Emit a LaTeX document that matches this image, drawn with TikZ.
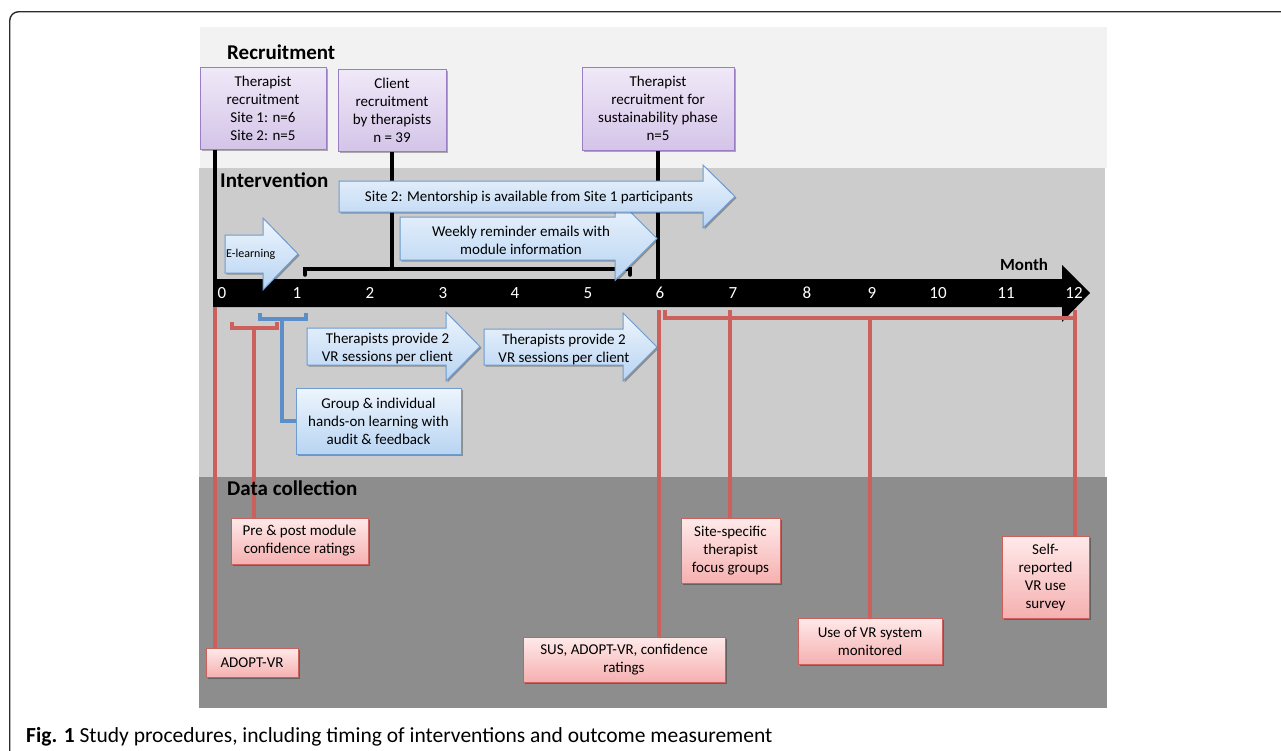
\documentclass[tikz,border=0pt]{standalone}
\usepackage{fontspec}
\setmainfont{Carlito}
\usetikzlibrary{shadows}

\definecolor{bandA}{RGB}{242,242,242}
\definecolor{bandB}{RGB}{204,204,204}
\definecolor{bandC}{RGB}{141,141,141}
\definecolor{purpTop}{RGB}{240,233,248}
\definecolor{purpBot}{RGB}{212,196,232}
\definecolor{purpLine}{RGB}{155,125,195}
\definecolor{blueTop}{RGB}{238,245,253}
\definecolor{blueBot}{RGB}{184,212,242}
\definecolor{blueLine}{RGB}{110,155,208}
\definecolor{redTop}{RGB}{255,234,234}
\definecolor{redBot}{RGB}{245,176,176}
\definecolor{redLine}{RGB}{204,96,92}
\definecolor{blueBr}{RGB}{92,142,200}
\definecolor{frameCol}{RGB}{45,45,45}

\newcommand\blockarrow[6]{% #1 left x, #2 body top, #3 body bottom, #4 head x, #5 head extend, #6 tip x
  \path[arrowbox] (#1,#2) -- (#4,#2) -- (#4,#2-#5) -- (#6,{(#2+#3)/2}) -- (#4,#3+#5) -- (#4,#3) -- (#1,#3) -- cycle;}

\tikzset{
  shadowed/.style={drop shadow={opacity=0.3, shadow xshift=1.5pt, shadow yshift=-1.5pt, fill=black}},
  boxtext/.style={align=center, font=\fontsize{15}{18}\selectfont, inner sep=0pt, text=black},
  purplebox/.style={boxtext, draw=purpLine, line width=1pt, top color=purpTop, bottom color=purpBot, shadowed},
  redbox/.style={boxtext, draw=redLine, line width=1pt, top color=redTop, bottom color=redBot, shadowed},
  bluebox/.style={boxtext, draw=blueLine, line width=1pt, top color=blueTop, bottom color=blueBot, shadowed},
  arrowbox/.style={draw=blueLine, line width=1pt, top color=blueTop, bottom color=blueBot, shadowed},
  arrowtext/.style={align=center, font=\fontsize{15}{18}\selectfont, inner sep=0pt},
  bandtitle/.style={anchor=base west, font=\fontsize{21}{24}\selectfont\bfseries, inner sep=0pt},
  num/.style={text=white, font=\fontsize{17}{20}\selectfont, inner sep=0pt},
  blk/.style={draw=black, line width=3.5pt},
  redl/.style={draw=redLine, line width=3.2pt},
  bluel/.style={draw=blueBr, line width=3.2pt},
}

\begin{document}
\begin{tikzpicture}[x=1pt,y=-1pt]
\useasboundingbox (0,0) rectangle (1281,750);
\fill[white] (0,0) rectangle (1281,750);

% outer frame
\draw[frameCol, line width=1.4pt, rounded corners=9pt] (9.7,770) -- (9.7,11.7) -- (1300,11.7);

% bands
\fill[bandA] (200,27) rectangle (1107,168);
\fill[bandB] (199,168) rectangle (1105,477);
\fill[bandC] (199,477) rectangle (1107,708);

% recruitment boxes
\node[purplebox, minimum width=126, minimum height=82] (tr1) at (263,108) {Therapist\\recruitment\\Site 1: n=6\\Site 2: n=5};
\node[purplebox, minimum width=108, minimum height=82] (cr) at (392,110) {Client\\recruitment\\by therapists\\n = 39};
\node[purplebox, minimum width=152, minimum height=83] (tr3) at (658,108.5) {Therapist\\recruitment for\\sustainability phase\\n=5};

% axis
\fill[black] (213,279) -- (1062,279) -- (1062,265) -- (1090,293) -- (1062,322) -- (1062,307) -- (213,307) -- cycle;
\node[anchor=base, font=\fontsize{17}{20}\selectfont\bfseries, inner sep=0pt] (month) at (1024,270) {Month};
\foreach \n/\x in {0/222,1/297,2/370,3/443,4/515,5/588,6/660,7/733,8/807,9/872,10/938,11/1006,12/1074}
  \node[num] (n\n) at (\x,293) {\n};

% axis coordinates
\coordinate (ax0) at (215,279);
\coordinate (brL) at (305,269);
\coordinate (brR) at (630,269);

% black connectors
\draw[blk] (tr1.south -| ax0) -- (ax0);
\draw[blk] (cr.south) -- (cr.south |- brL);
\draw[blk] (tr3.south) -- (tr3.south |- ax0);
\draw[blk, line cap=round] ([yshift=-6pt]brL) -- (brL) -- (brR) -- ([yshift=-6pt]brR);

% intervention arrows
\blockarrow{225}{235}{273}{263}{17}{298}
\node[anchor=west, font=\fontsize{12}{14}\selectfont, inner sep=0pt] (elearn) at (226,254) {E-learning};

\blockarrow{400}{217}{260}{615}{20.5}{657}
\node[arrowtext] (weekly) at (521,240) {Weekly reminder emails with\\module information};

\blockarrow{339}{181}{212}{703}{16}{735}
\node[arrowtext] (mentor) at (529,197) {Site 2: Mentorship is available from Site 1 participants};

\blockarrow{307}{328}{365}{446}{16}{480}
\node[arrowtext] (tp1) at (387.5,348) {Therapists provide 2\\VR sessions per client};

\blockarrow{484}{329}{365}{623}{16}{657}
\node[arrowtext] (tp2) at (564,349) {Therapists provide 2\\VR sessions per client};

\node[bluebox, minimum width=165, minimum height=66] (group) at (378.5,421) {Group \& individual\\hands-on learning with\\audit \& feedback};

% data collection boxes
\node[redbox, minimum width=92, minimum height=29] (adopt) at (252,662.5) {ADOPT-VR};
\node[redbox, minimum width=137, minimum height=46] (prepost) at (299.5,541) {Pre \& post module\\confidence ratings};
\node[redbox, minimum width=202, minimum height=45] (sus) at (624,659.5) {SUS, ADOPT-VR, confidence\\ratings};
\node[redbox, minimum width=99, minimum height=65] (site) at (730.5,550.5) {Site-specific\\therapist\\focus groups};
\node[redbox, minimum width=144, minimum height=46] (usevr) at (870,641) {Use of VR system\\monitored};
\node[redbox, minimum width=87, minimum height=82] (selfrep) at (1045.5,577) {Self-\\reported\\VR use\\survey};

% blue bracket
\coordinate (bbL) at (260,319);
\coordinate (bbR) at (306,319);
\coordinate (bbS) at (282,319);
\draw[bluel] ([yshift=6pt]bbL) -- (bbL) -- (bbR) -- ([yshift=6pt]bbR);
\draw[bluel] (bbS) -- (bbS |- group.west) -- (group.west);

% red small bracket
\coordinate (rbL) at (232,328);
\coordinate (rbR) at (277,328);
\coordinate (rbS) at (254,328);
\draw[redl] ([yshift=6pt]rbL) -- (rbL) -- (rbR) -- ([yshift=6pt]rbR);
\draw[redl] (rbS) -- (prepost.north -| rbS);

% red lines from the axis
\coordinate (r0) at (215,307);
\coordinate (r6) at (659,310);
\coordinate (r7) at (730,310);
\coordinate (rL) at (665,318);
\coordinate (rR) at (1075,318);
\coordinate (r9) at (870,318);
\coordinate (r12) at (1075,310);
\draw[redl] (r0) -- (adopt.north -| r0);
\draw[redl] (r6) -- (sus.north -| r6);
\draw[redl] ([yshift=8pt]rL) -- (rL) -- (rR);
\draw[redl] (r12) -- (selfrep.north -| r12);
\draw[redl] (r7) -- (site.north -| r7);
\draw[redl] (r9) -- (usevr.north -| r9);

% band titles (on top)
\node[bandtitle] (trec) at (227,59) {Recruitment};
\node[bandtitle] (tint) at (220,187) {Intervention};
\node[bandtitle] (tdat) at (227,495) {Data collection};

% caption
\node[anchor=base west, inner sep=0pt, font=\fontsize{21.5}{24}\selectfont] (caption) at (26,742) {\textbf{Fig. 1} Study procedures, including timing of interventions and outcome measurement};
\end{tikzpicture}
\end{document}
